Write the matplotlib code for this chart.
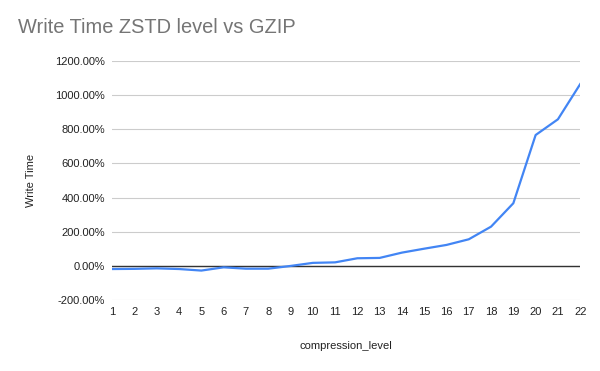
import matplotlib
matplotlib.use("Agg")
import matplotlib.pyplot as plt
from matplotlib.ticker import FuncFormatter

levels = list(range(1, 23))
write_time = [-18, -17, -14, -18, -27, -8, -16, -16, 0, 18, 21, 45, 47,
              78, 101, 123, 156, 230, 367, 766, 858, 1064]

plt.rcParams["font.family"] = ["Liberation Sans", "DejaVu Sans"]

fig = plt.figure(figsize=(6, 3.71), dpi=100)
ax = fig.add_axes([0.187, 0.191, 0.78, 0.645])

ax.plot(levels, write_time, color="#4285F4", linewidth=1.6, zorder=3)
ax.axhline(0, color="#333333", linewidth=1.0, zorder=2)

ax.set_xlim(1, 22)
ax.set_ylim(-200, 1200)
ax.set_xticks(levels)
ax.set_yticks(range(-200, 1201, 200))
ax.yaxis.set_major_formatter(FuncFormatter(lambda v, p: f"{v:.2f}%"))
ax.grid(axis="y", color="#cccccc", linewidth=0.8)
ax.set_axisbelow(True)
for s in ax.spines.values():
    s.set_visible(False)
ax.tick_params(length=0, labelsize=8, colors="#222222", pad=5)

ax.set_xlabel("compression_level", fontsize=8, color="#222222", labelpad=17)
ax.set_ylabel("Write Time", fontsize=8, color="#222222", labelpad=14)
fig.text(0.03, 0.925, "Write Time ZSTD level vs GZIP", fontsize=14.4,
         color="#757575", va="center")

fig.savefig("out.png", dpi=100)
